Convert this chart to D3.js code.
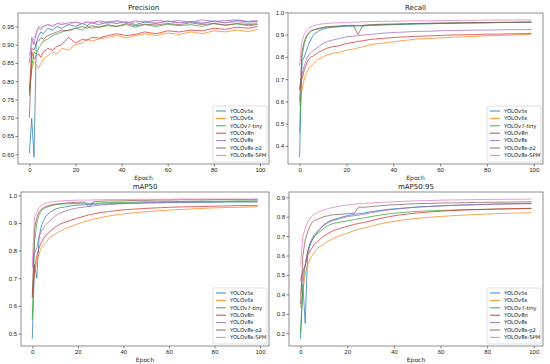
<!DOCTYPE html>
<html>
<head>
<meta charset="utf-8">
<script src="https://cdn.jsdelivr.net/npm/d3@7"></script>
<style>
  body { margin: 0; background: #fff; }
  svg { display: block; font-family: "DejaVu Sans", sans-serif; }
  .tick text { fill: #222; }
  .tick line { stroke: #333; }
  .domain { display: none; }
</style>
</head>
<body>
<div class="chart"></div>
<script>

////////// DATA //////////

var epochs = [0,1,2,3,4,5,6,8,10,12,14,17,20,23,25,27,30,34,38,42,46,50,55,60,65,70,75,80,85,90,95,99];

var models = ["YOLOv5s","YOLOv6s","YOLOv7-tiny","YOLOv8n","YOLOv8s","YOLOv8s-p2","YOLOv8s-SPM"];
var colours = ["#1f77b4","#ff7f0e","#2ca02c","#d62728","#9467bd","#8c564b","#e377c2"];

var xTicks = [0,20,40,60,80,100];

// Precision
var precV5s  = [0.603,0.698,0.592,0.905,0.925,0.935,0.930,0.945,0.940,0.950,0.945,0.955,0.950,0.958,0.952,0.960,0.955,0.962,0.958,0.963,0.955,0.962,0.958,0.965,0.960,0.963,0.958,0.965,0.960,0.966,0.962,0.965];
var precV6s  = [0.780,0.830,0.855,0.845,0.835,0.850,0.860,0.870,0.880,0.875,0.890,0.885,0.900,0.905,0.915,0.910,0.915,0.920,0.925,0.918,0.925,0.930,0.925,0.932,0.928,0.935,0.930,0.938,0.935,0.940,0.936,0.942];
var precV7t  = [0.760,0.840,0.880,0.875,0.890,0.900,0.910,0.915,0.925,0.930,0.935,0.940,0.945,0.940,0.950,0.945,0.948,0.952,0.950,0.955,0.948,0.955,0.950,0.956,0.952,0.955,0.950,0.958,0.953,0.957,0.952,0.955];
var precV8n  = [0.770,0.880,0.860,0.870,0.875,0.865,0.880,0.890,0.885,0.895,0.900,0.920,0.905,0.915,0.912,0.920,0.918,0.925,0.930,0.925,0.928,0.935,0.930,0.938,0.935,0.940,0.938,0.945,0.942,0.948,0.945,0.950];
var precV8s  = [0.850,0.920,0.900,0.935,0.950,0.945,0.950,0.955,0.950,0.958,0.955,0.960,0.962,0.958,0.962,0.960,0.965,0.962,0.966,0.960,0.965,0.962,0.967,0.963,0.966,0.962,0.968,0.964,0.966,0.968,0.964,0.966];
var precP2   = [0.700,0.890,0.885,0.905,0.910,0.920,0.915,0.925,0.930,0.935,0.940,0.938,0.945,0.950,0.945,0.952,0.948,0.955,0.950,0.958,0.952,0.956,0.954,0.958,0.955,0.960,0.955,0.958,0.954,0.958,0.955,0.957];
var precSPM  = [0.870,0.900,0.920,0.930,0.945,0.940,0.950,0.955,0.952,0.958,0.960,0.955,0.962,0.958,0.963,0.960,0.962,0.958,0.964,0.960,0.962,0.965,0.960,0.963,0.960,0.964,0.961,0.963,0.960,0.963,0.958,0.960];

// Recall
var recV5s   = [0.350,0.780,0.800,0.830,0.860,0.880,0.900,0.915,0.925,0.930,0.932,0.935,0.938,0.938,0.940,0.940,0.942,0.942,0.944,0.945,0.946,0.948,0.948,0.950,0.950,0.952,0.952,0.953,0.954,0.954,0.955,0.956];
var recV6s   = [0.580,0.650,0.700,0.730,0.750,0.760,0.770,0.790,0.800,0.810,0.815,0.820,0.830,0.835,0.840,0.845,0.855,0.860,0.865,0.870,0.875,0.880,0.882,0.885,0.888,0.890,0.892,0.895,0.896,0.898,0.900,0.900];
var recV7t   = [0.460,0.800,0.860,0.890,0.905,0.915,0.920,0.925,0.930,0.935,0.935,0.938,0.940,0.940,0.940,0.938,0.942,0.944,0.945,0.946,0.948,0.948,0.950,0.950,0.952,0.952,0.953,0.953,0.954,0.955,0.955,0.955];
var recV8n   = [0.650,0.700,0.740,0.770,0.790,0.800,0.805,0.820,0.830,0.840,0.845,0.850,0.860,0.865,0.870,0.872,0.878,0.882,0.885,0.888,0.890,0.892,0.894,0.896,0.898,0.899,0.900,0.902,0.902,0.903,0.904,0.905];
var recV8s   = [0.660,0.720,0.760,0.790,0.810,0.820,0.830,0.845,0.860,0.870,0.875,0.882,0.890,0.893,0.895,0.898,0.900,0.905,0.908,0.910,0.912,0.914,0.915,0.917,0.918,0.919,0.920,0.920,0.921,0.922,0.922,0.922];
var recP2    = [0.600,0.820,0.870,0.895,0.910,0.918,0.922,0.928,0.932,0.935,0.937,0.938,0.940,0.942,0.900,0.942,0.944,0.946,0.947,0.948,0.949,0.950,0.951,0.952,0.952,0.953,0.954,0.954,0.955,0.955,0.956,0.956];
var recSPM   = [0.760,0.870,0.900,0.920,0.930,0.935,0.940,0.945,0.948,0.950,0.952,0.953,0.955,0.955,0.956,0.957,0.958,0.959,0.960,0.960,0.961,0.962,0.962,0.963,0.963,0.964,0.964,0.965,0.965,0.965,0.966,0.966];

// mAP50
var map50V5s = [0.480,0.750,0.700,0.850,0.890,0.910,0.925,0.940,0.950,0.955,0.958,0.962,0.965,0.966,0.967,0.968,0.969,0.970,0.971,0.972,0.972,0.973,0.973,0.974,0.974,0.975,0.975,0.975,0.976,0.976,0.976,0.976];
var map50V6s = [0.630,0.720,0.760,0.790,0.810,0.820,0.830,0.850,0.860,0.870,0.878,0.888,0.897,0.905,0.910,0.914,0.920,0.926,0.931,0.935,0.938,0.941,0.944,0.947,0.949,0.951,0.953,0.955,0.956,0.957,0.958,0.959];
var map50V7t = [0.550,0.830,0.900,0.930,0.945,0.952,0.956,0.962,0.966,0.968,0.969,0.970,0.971,0.972,0.971,0.971,0.973,0.974,0.975,0.975,0.976,0.977,0.977,0.978,0.978,0.978,0.979,0.979,0.979,0.980,0.980,0.980];
var map50V8n = [0.640,0.740,0.780,0.810,0.830,0.845,0.855,0.872,0.885,0.895,0.902,0.910,0.918,0.925,0.930,0.933,0.938,0.942,0.946,0.949,0.951,0.953,0.955,0.957,0.958,0.959,0.960,0.961,0.962,0.963,0.963,0.964];
var map50V8s = [0.740,0.790,0.810,0.850,0.870,0.885,0.895,0.910,0.925,0.935,0.942,0.950,0.955,0.958,0.960,0.962,0.965,0.967,0.969,0.971,0.972,0.973,0.974,0.975,0.976,0.976,0.977,0.977,0.978,0.978,0.978,0.979];
var map50P2  = [0.630,0.880,0.920,0.940,0.950,0.956,0.960,0.965,0.968,0.970,0.972,0.974,0.975,0.976,0.958,0.978,0.979,0.980,0.980,0.981,0.982,0.982,0.983,0.983,0.984,0.984,0.984,0.985,0.985,0.985,0.985,0.986];
var map50SPM = [0.750,0.920,0.940,0.955,0.965,0.970,0.972,0.976,0.978,0.980,0.981,0.982,0.983,0.983,0.983,0.984,0.984,0.985,0.985,0.985,0.986,0.986,0.986,0.986,0.987,0.987,0.987,0.987,0.987,0.987,0.987,0.987];

// mAP50:95
var map95V5s = [0.170,0.450,0.250,0.600,0.650,0.680,0.700,0.730,0.760,0.775,0.785,0.795,0.805,0.812,0.815,0.818,0.825,0.832,0.838,0.842,0.846,0.850,0.853,0.856,0.858,0.860,0.862,0.864,0.866,0.867,0.868,0.869];
var map95V6s = [0.330,0.420,0.500,0.550,0.580,0.600,0.620,0.645,0.660,0.675,0.688,0.703,0.715,0.728,0.735,0.740,0.750,0.762,0.772,0.780,0.786,0.791,0.797,0.801,0.805,0.808,0.811,0.814,0.816,0.818,0.819,0.820];
var map95V7t = [0.200,0.450,0.550,0.620,0.660,0.680,0.700,0.720,0.740,0.755,0.765,0.772,0.778,0.785,0.790,0.793,0.800,0.808,0.815,0.820,0.824,0.827,0.830,0.832,0.834,0.836,0.837,0.838,0.839,0.840,0.841,0.842];
var map95V8n = [0.470,0.520,0.550,0.600,0.620,0.640,0.660,0.680,0.700,0.715,0.728,0.740,0.750,0.760,0.765,0.770,0.778,0.790,0.800,0.808,0.814,0.819,0.824,0.828,0.831,0.834,0.836,0.838,0.840,0.841,0.842,0.843];
var map95V8s = [0.400,0.500,0.550,0.620,0.660,0.690,0.710,0.735,0.755,0.770,0.780,0.790,0.800,0.805,0.808,0.812,0.820,0.828,0.835,0.840,0.845,0.849,0.852,0.855,0.858,0.860,0.862,0.863,0.864,0.865,0.866,0.866];
var map95P2  = [0.350,0.600,0.680,0.720,0.750,0.770,0.780,0.790,0.800,0.805,0.810,0.812,0.815,0.818,0.850,0.848,0.852,0.856,0.860,0.862,0.865,0.867,0.868,0.870,0.871,0.872,0.873,0.874,0.875,0.875,0.876,0.876];
var map95SPM = [0.550,0.700,0.740,0.770,0.790,0.805,0.815,0.825,0.835,0.842,0.848,0.855,0.860,0.864,0.866,0.868,0.870,0.873,0.876,0.878,0.880,0.882,0.883,0.885,0.886,0.887,0.888,0.889,0.889,0.890,0.890,0.891];


////////// SETUP //////////

var width = 550, height = 364;

var panels = [
  { title: "Precision", series: [precV5s, precV6s, precV7t, precV8n, precV8s, precP2, precSPM],
    yTicks: [0.60,0.65,0.70,0.75,0.80,0.85,0.90,0.95], fmt: ".2f",
    box: { left: 18, right: 269, top: 13, bottom: 164 } },
  { title: "Recall", series: [recV5s, recV6s, recV7t, recV8n, recV8s, recP2, recSPM],
    yTicks: [0.4,0.5,0.6,0.7,0.8,0.9,1.0], fmt: ".1f",
    box: { left: 288, right: 543, top: 13, bottom: 164 } },
  { title: "mAP50", series: [map50V5s, map50V6s, map50V7t, map50V8n, map50V8s, map50P2, map50SPM],
    yTicks: [0.5,0.6,0.7,0.8,0.9,1.0], fmt: ".1f",
    box: { left: 21, right: 269, top: 192, bottom: 346 } },
  { title: "mAP50:95", series: [map95V5s, map95V6s, map95V7t, map95V8n, map95V8s, map95P2, map95SPM],
    yTicks: [0.2,0.3,0.4,0.5,0.6,0.7,0.8,0.9], fmt: ".1f",
    box: { left: 289, right: 543, top: 192, bottom: 346 } }
];

var svg = d3.select(".chart")
    .append("svg")
    .attr("width", width)
    .attr("height", height);


////////// PANELS //////////

panels.forEach(function(p) {
  var b = p.box;

  // matplotlib-like 5% padding on both axes
  var xPad = (d3.max(epochs) - d3.min(epochs)) * 0.05;
  var x = d3.scaleLinear()
      .domain([d3.min(epochs) - xPad, d3.max(epochs) + xPad])
      .range([b.left, b.right]);

  var yMin = d3.min(p.series, function(s) { return d3.min(s); });
  var yMax = d3.max(p.series, function(s) { return d3.max(s); });
  var yPad = (yMax - yMin) * 0.05;
  var y = d3.scaleLinear()
      .domain([yMin - yPad, yMax + yPad])
      .range([b.bottom, b.top]);

  var g = svg.append("g").attr("class", "panel");

  // x axis
  g.append("g")
      .attr("transform", "translate(0," + b.bottom + ")")
      .call(d3.axisBottom(x).tickValues(xTicks).tickSize(2.5).tickPadding(1.5).tickFormat(d3.format("d")))
      .selectAll("text").style("font-size", "6px");

  // y axis
  g.append("g")
      .attr("transform", "translate(" + b.left + ",0)")
      .call(d3.axisLeft(y).tickValues(p.yTicks).tickSize(2.5).tickPadding(1.5).tickFormat(d3.format(p.fmt)))
      .selectAll("text").style("font-size", "6px");

  g.selectAll(".tick line").attr("stroke-width", 0.6);

  // lines
  var line = d3.line()
      .x(function(d, i) { return x(epochs[i]); })
      .y(function(d) { return y(d); });

  g.append("g")
      .selectAll("path")
      .data(p.series)
      .enter()
      .append("path")
      .attr("d", line)
      .attr("fill", "none")
      .attr("stroke", function(d, i) { return colours[i]; })
      .attr("stroke-width", 0.8)
      .attr("stroke-opacity", 0.9);

  // frame
  g.append("rect")
      .attr("x", b.left)
      .attr("y", b.top)
      .attr("width", b.right - b.left)
      .attr("height", b.bottom - b.top)
      .attr("fill", "none")
      .attr("stroke", "#444")
      .attr("stroke-width", 0.6);

  // title and x label
  g.append("text")
      .attr("x", (b.left + b.right) / 2)
      .attr("y", b.top - 3.5)
      .attr("text-anchor", "middle")
      .style("font-size", "7px")
      .attr("fill", "#222")
      .text(p.title);

  g.append("text")
      .attr("x", (b.left + b.right) / 2)
      .attr("y", b.bottom + 15.5)
      .attr("text-anchor", "middle")
      .style("font-size", "6px")
      .attr("fill", "#222")
      .text("Epoch");

  // legend
  var lw = 54, lh = 56;
  var legend = g.append("g")
      .attr("transform", "translate(" + (b.right - lw - 2) + "," + (b.bottom - lh - 2) + ")");

  legend.append("rect")
      .attr("width", lw)
      .attr("height", lh)
      .attr("rx", 1.5)
      .attr("fill", "#fff")
      .attr("fill-opacity", 0.85)
      .attr("stroke", "#ccc")
      .attr("stroke-width", 0.6);

  var item = legend.selectAll(".item")
      .data(models)
      .enter()
      .append("g")
      .attr("class", "item")
      .attr("transform", function(d, i) { return "translate(3," + (5 + i * 7.4) + ")"; });

  item.append("line")
      .attr("x1", 0)
      .attr("x2", 10)
      .attr("stroke", function(d, i) { return colours[i]; })
      .attr("stroke-width", 0.9);

  item.append("text")
      .attr("x", 14)
      .attr("dy", "0.35em")
      .style("font-size", "5.3px")
      .attr("fill", "#222")
      .text(function(d) { return d; });
});

</script>
</body>
</html>
